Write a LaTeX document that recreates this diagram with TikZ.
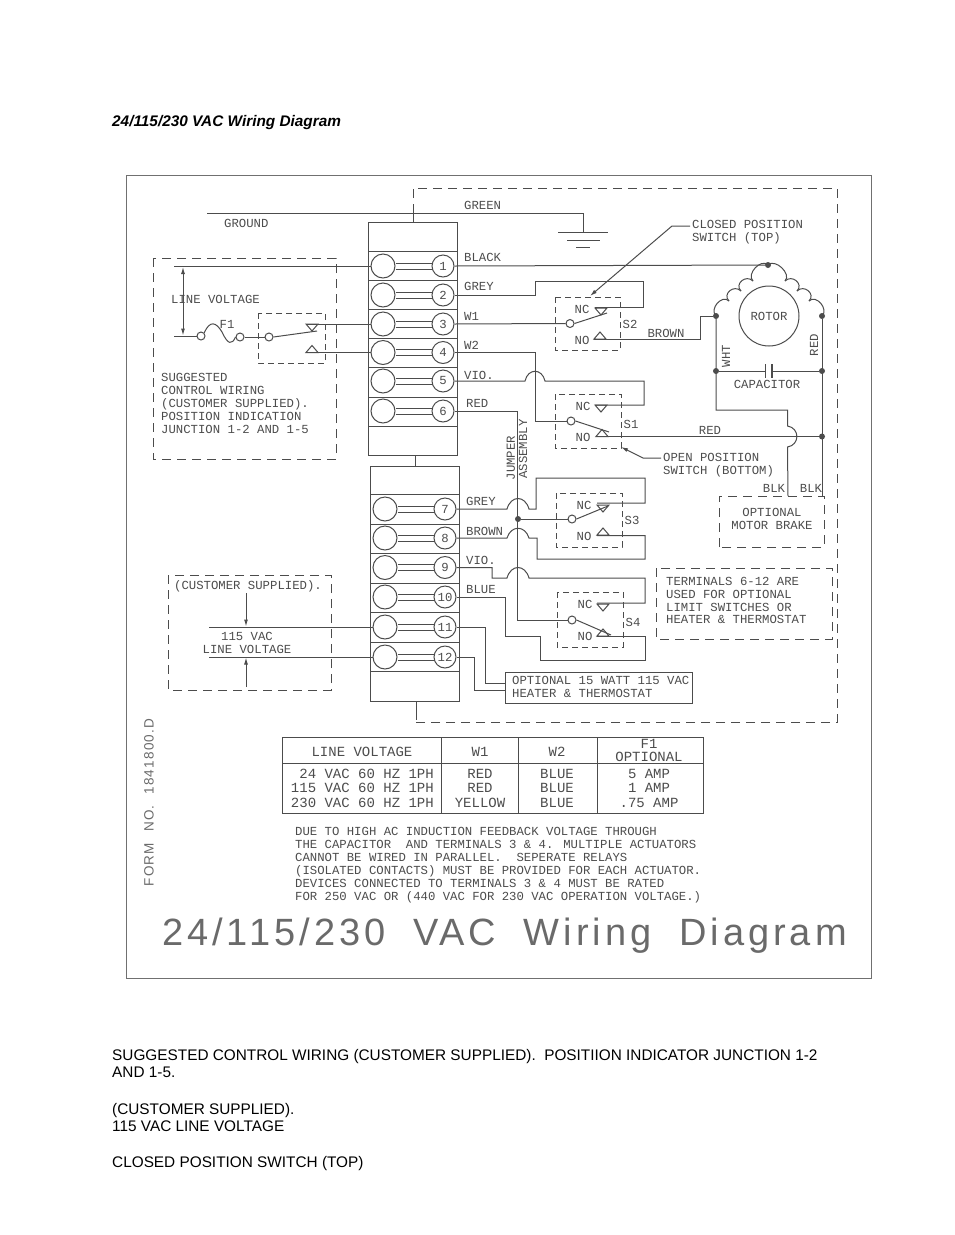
\documentclass[tikz,border=0pt]{standalone}
\usepackage{fontspec}
\setmainfont{Liberation Sans}
\newfontfamily\plotfam{Liberation Mono}
\newfontfamily\formfam{Liberation Sans}[LetterSpace=9,WordSpace=2.2]
\newfontfamily\bigfam{Liberation Sans}[LetterSpace=10.5,WordSpace=1.9]
\usetikzlibrary{arrows.meta}
\definecolor{ink}{HTML}{4C4C4C}
\definecolor{frameink}{HTML}{707070}
\definecolor{titleink}{HTML}{6A6A6A}
\newcommand{\plotsize}{\plotfam\fontsize{12.3}{12.9}\selectfont}
\newcommand{\tabsize}{\plotfam\fontsize{14}{14.6}\selectfont}
\newcommand{\NCtri}[2]{\draw[wire] (#1-6,#2) -- (#1+6,#2) -- (#1,#2+7) -- cycle;}
\newcommand{\NOtri}[2]{\draw[wire] (#1-6,#2) -- (#1+6,#2) -- (#1,#2-7) -- cycle;}
\newcommand{\termrow}[4]{% name, y, x-left, x-right ; number
  \node[termL] (l#1) at (#3,#2) {};
  \node[termR] (r#1) at (#4,#2) {#1};
  \draw[wire] ([yshift=3pt]l#1.east) -- ([yshift=3pt]l#1.east -| r#1.west);
  \draw[wire] ([yshift=-3pt]l#1.east) -- ([yshift=-3pt]l#1.east -| r#1.west);
}
\tikzset{
  wire/.style={draw=ink,line width=1pt},
  dashbox/.style={draw=ink,line width=1pt,dash pattern=on 9pt off 6pt},
  swbox/.style={draw=ink,line width=1pt,dash pattern=on 6pt off 4pt},
  block/.style={draw=ink,line width=1pt},
  termL/.style={circle,draw=ink,line width=1pt,minimum size=24pt,inner sep=0pt},
  termR/.style={circle,draw=ink,line width=1pt,minimum size=22pt,inner sep=0pt,text=ink,font=\plotsize},
  swc/.style={circle,draw=ink,line width=1pt,minimum size=8pt,inner sep=0pt,fill=white},
  junction/.style={circle,fill=ink,minimum size=6pt,inner sep=0pt},
  lbl/.style={inner sep=0pt,anchor=west,text=ink,font=\plotsize},
  clbl/.style={inner sep=0pt,anchor=center,text=ink,font=\plotsize},
  mlbl/.style={inner sep=0pt,anchor=west,align=left,text=ink,font=\plotsize},
  tlbl/.style={inner sep=0pt,anchor=center,text=ink,font=\tabsize},
  page/.style={inner sep=0pt,anchor=west,text=black,font=\fontsize{15.35}{17}\selectfont},
  tip/.style={-{Latex[length=7pt,width=4pt]}},
}
\begin{document}
\begin{tikzpicture}[x=1pt,y=-1pt]
\useasboundingbox (0,0) rectangle (954,1235);
% page text
\node[page,font=\bfseries\itshape\fontsize{15.35}{17}\selectfont] (ptitle) at (112,123) {24/115/230 VAC Wiring Diagram};
\node[page] (p1) at (112,1057) {SUGGESTED CONTROL WIRING (CUSTOMER SUPPLIED).\ \ POSITIION INDICATOR JUNCTION 1-2};
\node[page] (p2) at (112,1072) {AND 1-5.};
\node[page] (p3) at (112,1111) {(CUSTOMER SUPPLIED).};
\node[page] (p4) at (112,1126) {115 VAC LINE VOLTAGE};
\node[page] (p5) at (112,1164) {CLOSED POSITION SWITCH (TOP)};
% scan frame
\draw[draw=frameink,line width=1pt] (126,175) rectangle (871,978);
% terminal blocks
\draw[block] (368,222) rectangle (457,455);
\foreach \y in {251,280,309,338,367,397,426} \draw[block] (368,\y) -- (457,\y);
\draw[block] (370,466) rectangle (459,701);
\foreach \y in {494,524,553,583,612,642,671} \draw[block] (370,\y) -- (459,\y);
\draw[wire] (415,455) -- (415,466);
\termrow{1}{266}{383}{443}
\termrow{2}{295}{383}{443}
\termrow{3}{324}{383}{443}
\termrow{4}{352.5}{383}{443}
\termrow{5}{381}{383}{443}
\termrow{6}{411}{383}{443}
\termrow{7}{509}{385}{445}
\termrow{8}{538}{385}{445}
\termrow{9}{567.5}{385}{445}
\termrow{10}{597}{385}{445}
\termrow{11}{627}{385}{445}
\termrow{12}{657}{385}{445}
% outer dashed enclosure
\coordinate (encT) at (413,222);
\coordinate (encB) at (416,701);
\draw[wire] (encT) -- (413,213);
\draw[dashbox] (413,213) -- (413,188) -- (837,188) -- (837,722) -- (416,722);
\draw[wire] (encB) -- (416,720);
% ground
\coordinate (gA) at (207,213);
\coordinate (gB) at (583,232);
\draw[wire] (gA) -| (gB);
\coordinate (g1a) at (558,232); \coordinate (g1b) at (608,232);
\coordinate (g2a) at (567,240); \coordinate (g2b) at (600,240);
\coordinate (g3a) at (576,247); \coordinate (g3b) at (590,247);
\draw[wire] (g1a) -- (g1b) (g2a) -- (g2b) (g3a) -- (g3b);
\node[lbl] (tGreen) at (464,205) {GREEN};
\node[lbl] (tGround) at (224,223) {GROUND};
% customer control box
\draw[dashbox] (153,258) rectangle (336,459);
\coordinate (lvT) at (174,266);
\coordinate (lvB) at (174,336);
\draw[wire] (lvT) -- (l1.west);
\draw[wire,{Latex[length=7pt,width=4pt]}-{Latex[length=7pt,width=4pt]}] (183,267) -- (183,335.5);
\node[lbl] (tLV) at (171,299) {LINE VOLTAGE};
\node[swc] (f1a) at (201,336) {};
\node[swc] (f1b) at (240,337) {};
\node[swc] (f1c) at (269,337) {};
\draw[wire] (lvB) -- (f1a.west);
\draw[wire] (f1a.north east) .. controls (210,320) and (216,322) .. (222,332) .. controls (228,345) and (232,345) .. (f1b.west);
\draw[wire] (f1b.east) -- (f1c.west);
\node[clbl] (tF1) at (227,324) {F1};
\draw[swbox] (258,313) rectangle (325,363);
\NCtri{312}{324}
\NOtri{312}{352.5}
\draw[wire] (f1c.east) -- (317,331);
\coordinate (ctA) at (306,324);
\coordinate (ctB) at (306,352.5);
\draw[wire] (ctA) -- (l3.west);
\draw[wire] (ctB) -- (l4.west);
\node[mlbl] (tSug) at (161,403.5) {SUGGESTED\\CONTROL WIRING\\(CUSTOMER SUPPLIED).\\POSITION INDICATION\\JUNCTION 1-2 AND 1-5};
% wire labels
\node[lbl] (t1) at (464,257) {BLACK};
\node[lbl] (t2) at (464,286) {GREY};
\node[lbl] (t3) at (464,316) {W1};
\node[lbl] (t4) at (464,345) {W2};
\node[lbl] (t5) at (464,375) {VIO.};
\node[lbl] (t6) at (466,403) {RED};
\node[lbl] (t7) at (466,501) {GREY};
\node[lbl] (t8) at (466,531) {BROWN};
\node[lbl] (t9) at (466,560) {VIO.};
\node[lbl] (t10) at (466,589) {BLUE};
% motor
\node[circle,draw=ink,line width=1pt,minimum size=60pt,inner sep=0pt,text=ink,font=\plotsize] (rotor) at (769,316) {ROTOR};
\foreach \xa/\ya/\xb/\yb in {716/316/729/301,729/301/741/291,741/291/753/281,753/281/768/265} {
  \draw[wire] (\xa,\ya) .. controls (\xa-7,\ya-7) and (\xb-7,\yb-7) .. (\xb,\yb);
}
\foreach \xa/\ya/\xb/\yb in {822/316/809/301,809/301/797/291,797/291/785/281,785/281/768/265} {
  \draw[wire] (\xa,\ya) .. controls (\xa+7,\ya-7) and (\xb+7,\yb-7) .. (\xb,\yb);
}
\node[junction] (jTop) at (768,265) {};
\node[junction] (jW) at (716,316) {};
\node[junction] (jR) at (822,316) {};
\node[junction] (jCapL) at (716,371) {};
\node[junction] (jCapR) at (822,371) {};
\node[junction] (jRed) at (822,436.5) {};
\draw[wire] (r1.east) -- (jTop);
% capacitor
\coordinate (capA) at (765.5,371);
\coordinate (capB) at (772,371);
\draw[wire] (jCapL) -- (capA) (capB) -- (jCapR);
\draw[wire,line width=1.2pt] (765.5,364) -- (765.5,378) (772,364) -- (772,378);
\node[clbl] (tCap) at (767,384) {CAPACITOR};
\node[clbl,rotate=90] (tWht) at (726,356) {WHT};
\node[clbl,rotate=90] (tRedR) at (814,345) {RED};
% motor legs
\coordinate (blkL) at (788,496);
\coordinate (blkR) at (822,496);
\draw[wire] (jW) -- (716,410) -- (787.5,410) -- (787.5,426) .. controls (800,428) and (800,445) .. (787.5,447) -- (blkL);
\draw[wire] (jR) -- (blkR);
\node[clbl] (tBlk1) at (774,488) {BLK};
\node[clbl] (tBlk2) at (811,488) {BLK};
\draw[dashbox] (719,547) -- (719,496) -- (824,496) -- (824,547) -- cycle;
\node[clbl,align=center] (tBrake) at (772,519) {OPTIONAL\\MOTOR BRAKE};
% S2
\draw[swbox] (555,297) rectangle (620,350);
\node[swc] (s2) at (570,323.5) {};
\NCtri{601}{308}
\NOtri{600}{339}
\draw[wire] (s2.east) -- (607,313);
\draw[wire] (r3.east) -- (s2.west);
\draw[wire] (r2.east) -- (535,295) -- (535,281) -- (643,281) -- (643,307) -- (595,307);
\draw[wire] (594,339) -- (700,339) -- (700,316) -- (jW);
\node[clbl] (tNC2) at (582,309) {NC};
\node[clbl] (tNO2) at (582,340) {NO};
\node[clbl] (tS2) at (630,324) {S2};
\node[clbl] (tBrown) at (666,333) {BROWN};
% S1
\draw[swbox] (555,394) rectangle (621,448);
\node[swc] (s1) at (571,421) {};
\NCtri{601}{405}
\NOtri{602}{436.5}
\draw[wire] (s1.east) -- (609,432);
\draw[wire] (r4.east) -- (535,352.5) -- (535,421) -- (s1.west);
\draw[wire] (r5.east) -- (525,381) .. controls (528,368) and (542,368) .. (545,381) -- (644,381) -- (644,405) -- (595,405);
\draw[wire] (596,436.5) -- (jRed);
\node[clbl] (tNC1) at (583,406) {NC};
\node[clbl] (tNO1) at (583,437) {NO};
\node[clbl] (tS1) at (631,424) {S1};
\node[clbl] (tRedM) at (710,430) {RED};
% jumper
\node[swc] (s3) at (572,519) {};
\node[swc] (s4) at (572,620) {};
\node[junction] (jJ) at (518,519) {};
\draw[wire] (r6.east) -- (517.5,411) -- (517.5,620) -- (s4.west);
\draw[wire] (jJ) -- (s3.west);
\node[clbl,rotate=90] (tJumper) at (511,458) {JUMPER};
\node[clbl,rotate=90] (tAssy) at (523,449) {ASSEMBLY};
% S3
\draw[swbox] (556,493) rectangle (622,547);
\NCtri{603}{505}
\NOtri{603}{535}
\draw[wire] (s3.east) -- (608,506);
\draw[wire] (r7.east) -- (507,509) .. controls (511,495) and (525,495) .. (529,509) -- (536,509) -- (536,478) -- (645,478) -- (645,503) -- (597,503);
\draw[wire] (r8.east) -- (507,538) .. controls (511,525) and (525,525) .. (529,538) -- (537,538) -- (537,559) -- (645,559) -- (645,535.5) -- (597,535.5);
\node[clbl] (tNC3) at (584,505) {NC};
\node[clbl] (tNO3) at (584,536) {NO};
\node[clbl] (tS3) at (632,520) {S3};
% S4
\draw[swbox] (557,592) rectangle (623,647);
\NCtri{603}{604}
\NOtri{603}{636}
\draw[wire] (s4.east) -- (611,635);
\draw[wire] (r9.east) -- (492,567.5) -- (492,578) -- (507,578) .. controls (511,564) and (525,564) .. (529,578) -- (645,578) -- (645,603) -- (597,603);
\draw[wire] (r10.east) -- (505,597) -- (505,636) -- (540,636) -- (540,660) -- (645,660) -- (645,636) -- (597,636);
\node[clbl] (tNC4) at (585,604) {NC};
\node[clbl] (tNO4) at (585,636) {NO};
\node[clbl] (tS4) at (633,622) {S4};
% callouts
\node[lbl,align=left] (tClosed) at (692,232) {CLOSED POSITION\\SWITCH (TOP)};
\node[lbl,align=left] (tOpen) at (663,465) {OPEN POSITION\\SWITCH (BOTTOM)};
\coordinate (cloS) at (690,226);
\coordinate (cloT) at (590,296);
\coordinate (opeS) at (661,458);
\coordinate (opeT) at (621,447);
\draw[wire,tip] (cloS) -- (672,226) -- (cloT);
\draw[wire,tip] (opeS) -- (643,458) -- (opeT);
% terminals note
\draw[dashbox] (656,568) rectangle (832,639);
\node[mlbl] (tTerm) at (666,600.5) {TERMINALS 6-12 ARE\\USED FOR OPTIONAL\\LIMIT SWITCHES OR\\HEATER \& THERMOSTAT};
% customer supplied 115
\draw[dashbox] (168,575) rectangle (331,690);
\node[clbl] (tCS) at (248,586) {(CUSTOMER SUPPLIED).};
\coordinate (c115T) at (209,627);
\coordinate (c115B) at (209,657);
\draw[wire] (c115T) -- (l11.west);
\draw[wire] (c115B) -- (l12.west);
\draw[wire,tip] (246,593) -- (246,626.5);
\draw[wire,tip] (246,687) -- (246,657.5);
\node[clbl] (t115) at (247,636) {115 VAC};
\node[clbl] (t115b) at (247,649) {LINE VOLTAGE};
% heater
\node[draw=ink,line width=1pt,minimum width=187pt,minimum height=31pt,inner sep=0pt,anchor=north west] (heater) at (505,672) {};
\node[mlbl] (tHeat) at (512,686.5) {OPTIONAL 15 WATT 115 VAC\\HEATER \& THERMOSTAT};
\draw[wire] (r11.east) -- (485,627) -- (485,683) -- (505,683);
\draw[wire] (r12.east) -- (474,657) -- (474,690) -- (505,690);
% table
\draw[block] (282,737) rectangle (703,813);
\draw[block] (282,763) -- (703,763);
\draw[block] (441,737) -- (441,813) (518,737) -- (518,813) (597,737) -- (597,813);
\node[tlbl] (hLV) at (362,752) {LINE VOLTAGE};
\node[tlbl] (hW1) at (480,752) {W1};
\node[tlbl] (hW2) at (557,752) {W2};
\node[tlbl] (hF1a) at (649,743.5) {F1};
\node[tlbl] (hF1b) at (649,757) {OPTIONAL};
\node[tlbl,anchor=east] (r1a) at (434,774) {24 VAC 60 HZ 1PH};
\node[tlbl,anchor=east] (r2a) at (434,788) {115 VAC 60 HZ 1PH};
\node[tlbl,anchor=east] (r3a) at (434,803) {230 VAC 60 HZ 1PH};
\node[tlbl] (r1b) at (480,774) {RED};
\node[tlbl] (r2b) at (480,788) {RED};
\node[tlbl] (r3b) at (480,803) {YELLOW};
\node[tlbl] (r1c) at (557,774) {BLUE};
\node[tlbl] (r2c) at (557,788) {BLUE};
\node[tlbl] (r3c) at (557,803) {BLUE};
\node[tlbl] (r1d) at (649,774) {5 AMP};
\node[tlbl] (r2d) at (649,788) {1 AMP};
\node[tlbl] (r3d) at (649,803) {.75 AMP};
% note
\node[mlbl] (tNote) at (295,865) {DUE TO HIGH AC INDUCTION FEEDBACK VOLTAGE THROUGH\\THE CAPACITOR\ \ AND TERMINALS 3 \& 4. MULTIPLE ACTUATORS\\CANNOT BE WIRED IN PARALLEL.\ \ SEPERATE RELAYS\\(ISOLATED CONTACTS) MUST BE PROVIDED FOR EACH ACTUATOR.\\DEVICES CONNECTED TO TERMINALS 3 \& 4 MUST BE RATED\\FOR 250 VAC OR (440 VAC FOR 230 VAC OPERATION VOLTAGE.)};
% form number and big title
\node[inner sep=0pt,rotate=90,text=titleink,font={\formfam\fontsize{13.5}{15}\selectfont}] (form) at (149,802.5) {FORM NO. 1841800.D};
\node[inner sep=0pt,anchor=base west,text=titleink,font={\bigfam\fontsize{38}{42}\selectfont}] (bigtitle) at (162,945) {24/115/230 VAC Wiring Diagram};
\end{tikzpicture}
\end{document}
